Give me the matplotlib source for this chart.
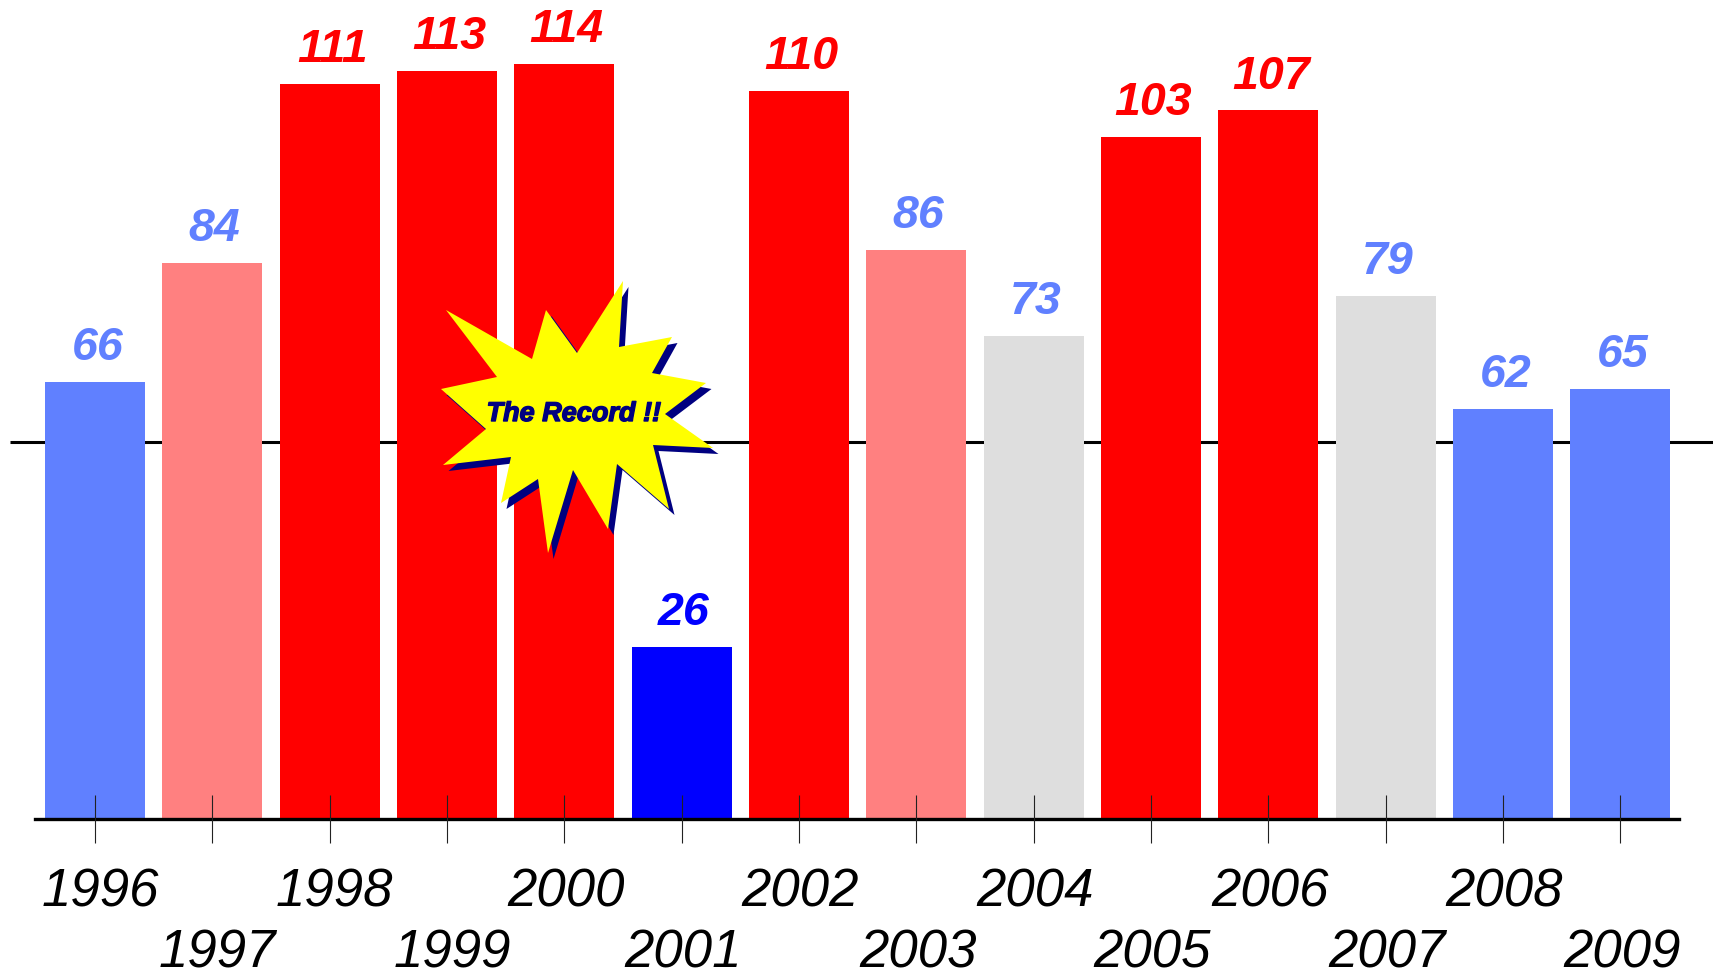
#!/usr/bin/env python3
"""Yearly counts as bars, with the record year flagged by a starburst."""
import matplotlib
matplotlib.use("Agg")
import matplotlib.pyplot as plt
import matplotlib.patheffects as pe
from matplotlib.patches import Polygon
from matplotlib.transforms import Affine2D, ScaledTranslation

W, H = 1713, 971

years = [1996, 1997, 1998, 1999, 2000, 2001, 2002,
         2003, 2004, 2005, 2006, 2007, 2008, 2009]
values = [66, 84, 111, 113, 114, 26, 110, 86, 73, 103, 107, 79, 62, 65]
bar_colours = ["#6080ff", "#ff8080", "#ff0000", "#ff0000", "#ff0000", "#0000ff", "#ff0000",
               "#ff8080", "#dedede", "#ff0000", "#ff0000", "#dedede", "#6080ff", "#6080ff"]
label_colours = ["#6080ff", "#6080ff", "#ff0000", "#ff0000", "#ff0000", "#0000ff", "#ff0000",
                 "#6080ff", "#6080ff", "#ff0000", "#ff0000", "#6080ff", "#6080ff", "#6080ff"]
average = 57

# outline of the burst, traced in pixels from the top-left of the image
STAR = [(623, 281), (619, 347), (672, 337), (652, 373), (706, 383), (665, 414),
        (713, 448), (653, 445), (669, 509), (617, 464), (608, 529), (573, 470),
        (548, 553), (538, 479), (501, 503), (511, 457), (443, 465), (486, 429),
        (441, 389), (497, 377), (446, 310), (532, 359), (546, 310), (577, 353)]

plt.rcParams["font.family"] = ["Liberation Sans", "DejaVu Sans"]

fig = plt.figure(figsize=(W / 100, H / 100), dpi=100)
base_y = 819.3
ax = fig.add_axes([35 / W, (H - base_y) / H, (1679 - 35) / W, base_y / H])
ax.patch.set_visible(False)

ax.bar(range(len(years)), values, width=0.853, color=bar_colours, zorder=2)
ax.set_xlim(-0.512, 13.5)
ax.set_ylim(0, base_y / 6.625)

ax.hlines(average, -0.729, 13.80, color="black", linewidth=2.2, clip_on=False, zorder=1)

for spine in ("top", "left", "right"):
    ax.spines[spine].set_visible(False)
ax.spines["bottom"].set_linewidth(2.4)
ax.set_yticks([])
ax.set_xticks(range(len(years)))
ax.set_xticklabels(years, fontsize=38, style="italic")
ax.tick_params(axis="x", direction="inout", length=35, width=0.8, color="#222222", pad=17)
for i, tick in enumerate(ax.xaxis.get_major_ticks()):
    if i % 2:
        tick.set_pad(61)
ax.set_axisbelow(False)
# the labels sit a little right of their ticks, more so before 2000
for year, lab in zip(years, ax.get_xticklabels()):
    nudge = 5 if year < 2000 else 1.5
    lab.set_transform(lab.get_transform() + ScaledTranslation(nudge / 100, 0, fig.dpi_scale_trans))

for i, v in enumerate(values):
    ax.text(i + 0.02, v + 5.1, str(v), color=label_colours[i], fontsize=33.5,
            style="italic", weight="bold", ha="center", va="center", zorder=4)

# pixel coordinates for the burst, y flipped
px = Affine2D().scale(1, -1).translate(0, H)
ax.add_patch(Polygon(STAR, closed=True, facecolor="#000080", edgecolor="none", clip_on=False,
                     transform=Affine2D().translate(5.5, 6) + px, zorder=5))
ax.add_patch(Polygon(STAR, closed=True, facecolor="#ffff00", edgecolor="none", clip_on=False,
                     transform=px, zorder=6))
fig.text(574 / W, 1 - 414 / H, "The Record !!", color="#000080", fontsize=19.5,
         style="italic", weight="bold", ha="center", va="center", zorder=7,
         path_effects=[pe.withStroke(linewidth=1.0, foreground="#000080")])

fig.savefig("out.png", dpi=100)
